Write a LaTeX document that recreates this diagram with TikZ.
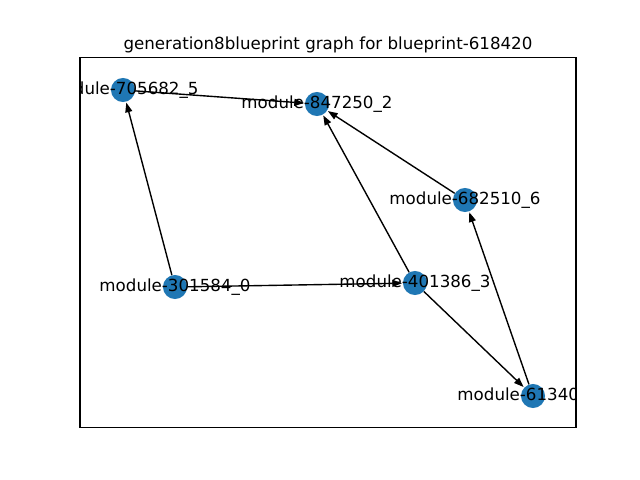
\documentclass[tikz,border=0pt]{standalone}
\usepackage{fontspec}
\setmainfont{DejaVu Sans}
\usetikzlibrary{arrows.meta}
\definecolor{nodeblue}{RGB}{31,119,180}
\tikzset{
  gnode/.style={circle, fill=nodeblue, draw=none, minimum size=17.3pt, inner sep=0pt},
  glabel/.style={inner sep=0pt, font=\fontsize{12pt}{14pt}\selectfont, text=black},
  gedge/.style={line width=1pt, -{Triangle[length=7pt,width=5pt]}, shorten >=0.5pt},
}
\begin{document}
\begin{tikzpicture}[x=0.72pt,y=-0.72pt]
\useasboundingbox (0,0) rectangle (640,480);
\fill[white] (0,0) rectangle (640,480);
% axes frame
\draw[line width=0.8pt] (80,57.6) rectangle (576,427.2);
% title
\node[glabel, anchor=base] (title) at (328,49.3) {generation8blueprint graph for blueprint-618420};
% nodes
\node[gnode] (n5) at (123,90) {};
\node[gnode] (n2) at (317,104) {};
\node[gnode] (n6) at (465,200) {};
\node[gnode] (n0) at (175,287) {};
\node[gnode] (n3) at (415,283) {};
\node[gnode] (n1) at (533,396) {};
% edges
\draw[gedge] (n5) -- (n2);
\draw[gedge] (n0) -- (n5);
\draw[gedge] (n3) -- (n2);
\draw[gedge] (n6) -- (n2);
\draw[gedge] (n0) -- (n3);
\draw[gedge] (n3) -- (n1);
\draw[gedge] (n1) -- (n6);
% labels clipped to axes
\begin{scope}
\clip (80,57.6) rectangle (576,427.2);
\node[glabel] (l5) at (123,90) {module-705682\_5};
\node[glabel] (l2) at (317,104) {module-847250\_2};
\node[glabel] (l6) at (465,200) {module-682510\_6};
\node[glabel] (l0) at (175,287) {module-301584\_0};
\node[glabel] (l3) at (415,283) {module-401386\_3};
\node[glabel] (l1) at (533,396) {module-613404\_1};
\end{scope}
\end{tikzpicture}
\end{document}
